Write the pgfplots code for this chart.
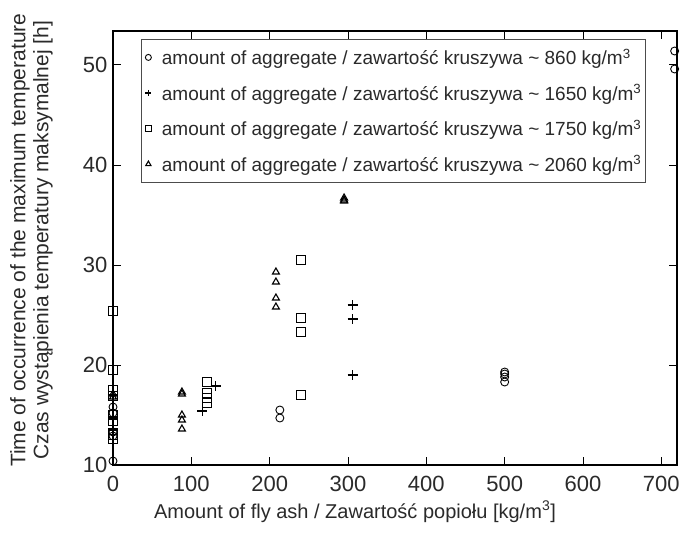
\documentclass[border=0pt]{standalone}
\usepackage{pgfplots}
\pgfplotsset{compat=1.18}
\usepackage{fontspec}
\setmainfont{Liberation Sans}
\definecolor{txt}{HTML}{2A2A2A}
\begin{document}
\begin{tikzpicture}
\begin{axis}[
  scale only axis, width=564pt, height=434pt,
  xmin=0, xmax=720, ymin=10, ymax=53.4,
  xtick={0,100,...,700}, ytick={10,20,...,50},
  tick align=inside, major tick length=8pt,
  axis line style={line width=1.2pt, black},
  tick style={line width=1pt, black},
  ticklabel style={font=\fontsize{22}{22}\selectfont, text=txt},
  xticklabel style={yshift=-8pt},
  yticklabel style={xshift=-2pt},
  /pgf/number format/assume math mode=true,
  xlabel={Amount of fly ash / Zawartość popiołu [kg/m\textsuperscript{3}]},
  ylabel={Time of occurrence of the maximum temperature\\Czas wystąpienia temperatury maksymalnej [h]},
  ylabel style={align=center, at={(axis description cs:-0.1445,0.518)}, anchor=center, font=\fontsize{21}{23}\selectfont},
  xlabel style={at={(axis description cs:0.429,-0.108)}, anchor=center, font=\fontsize{20}{23}\selectfont},
  label style={text=txt},
  clip=false,
  legend cell align=left,
  legend style={at={(0.0496,0.9816)}, anchor=north west,
    draw=black!70, line width=0.8pt, font=\fontsize{19}{19}\selectfont,
    text=txt, row sep=15.5pt, inner xsep=3pt, inner ysep=8pt,
    nodes={inner sep=1.5pt}},
  legend image code/.code={\path[draw=none,fill=none] (-4pt,-3pt) rectangle (12pt,3pt); \draw[#1, mark size=3pt, line width=0.9pt] plot coordinates {(0pt,0pt)};},
]
\addplot[only marks, mark=o, mark size=4pt, mark options={line width=0.9pt, black}] coordinates {
(0,10.4) (0,12.9) (0,13.3) (0,15.2) (0,15.8)
(213,14.7) (213,15.5)
(500,18.3) (500,18.8) (500,19.1) (500,19.3)
(717,49.6) (717,51.4)
};
\addlegendentry{amount of aggregate / zawartość kruszywa \textasciitilde{} 860 kg/m\textsuperscript{3}}
\addplot[only marks, mark=+, mark size=5pt, mark options={line width=1.3pt, black}] coordinates {
(0,17.0) (0,14.7) (0,13.6)
(114,15.4) (131,17.9)
(306,26.0) (306,24.6) (306,19.0)
};
\addlegendentry{amount of aggregate / zawartość kruszywa \textasciitilde{} 1650 kg/m\textsuperscript{3}}
\addplot[only marks, mark=square, mark size=4.5pt, mark options={line width=1.3pt, black}] coordinates {
(0,25.4) (0,19.5) (0,17.5) (0,16.9) (0,15.0) (0,14.4) (0,13.0) (0,12.6)
(120,18.3) (120,17.2) (120,16.7) (120,16.2)
(240,30.5) (240,24.7) (240,23.3) (240,17.0)
};
\addlegendentry{amount of aggregate / zawartość kruszywa \textasciitilde{} 1750 kg/m\textsuperscript{3}}
\addplot[only marks, mark=triangle, mark size=4pt, mark options={line width=1.1pt, black}] coordinates {
(0,17.1) (0,16.8)
(88,17.1) (88,17.3) (88,15.0) (88,14.5) (88,13.6)
(208,29.3) (208,28.3) (208,26.7) (208,25.8)
(295,36.5) (295,36.7) (295,36.4)
};
\addlegendentry{amount of aggregate / zawartość kruszywa \textasciitilde{} 2060 kg/m\textsuperscript{3}}
\end{axis}
\path ([xshift=-113pt,yshift=-71pt]current axis.south west) rectangle ([xshift=14pt,yshift=31pt]current axis.north east);
\end{tikzpicture}
\end{document}
